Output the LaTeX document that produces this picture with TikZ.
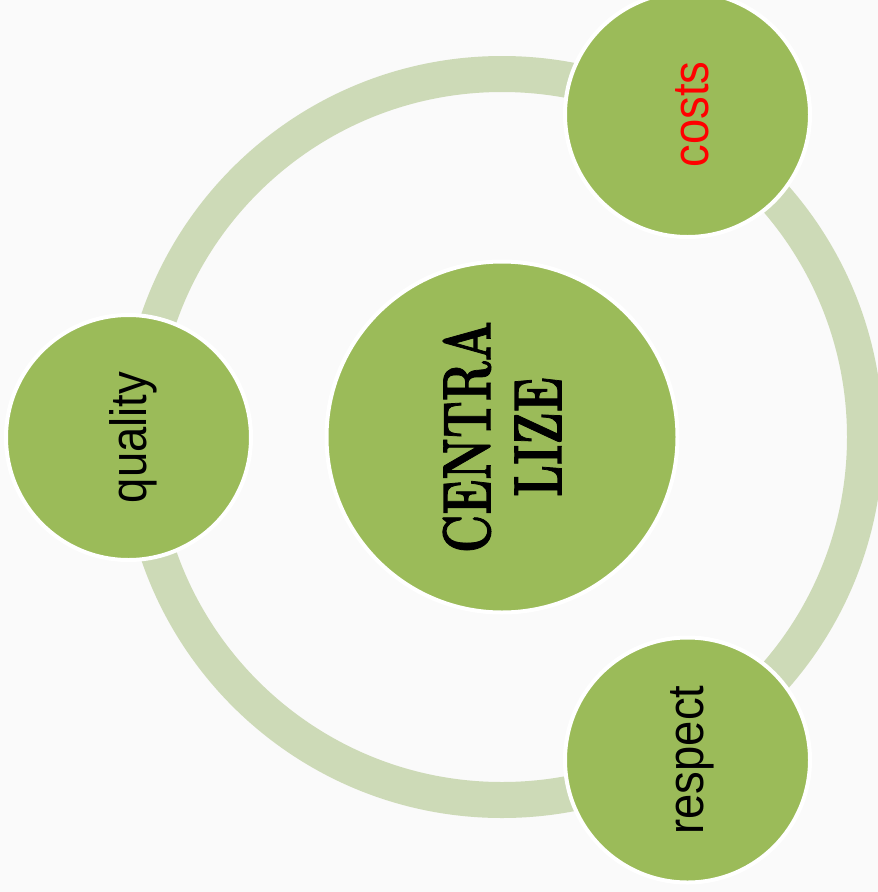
\documentclass[tikz,border=0pt]{standalone}
\usepackage{fontspec}
\newfontfamily\labelfont{Liberation Sans}
\newfontfamily\hubfont{lmroman10-bold}[Extension=.otf,FakeBold=1.6]
\usetikzlibrary{positioning}
\definecolor{leafgreen}{HTML}{9BBB59}
\definecolor{ringgreen}{HTML}{CDDAB7}
\definecolor{paper}{HTML}{FAFAFA}
\tikzset{
  bubble/.style={circle,fill=leafgreen,draw=white,line width=4pt,inner sep=0pt},
  hubbubble/.style={bubble,minimum size=351pt,rotate=90,align=center,
    font=\hubfont\fontsize{68}{71}\selectfont},
  petal/.style={bubble,minimum size=245pt,rotate=90,
    font=\labelfont\fontsize{51}{60}\selectfont},
  ring/.style={draw=ringgreen,line width=36pt}
}
\newcommand{\squeeze}[2]{\scalebox{#1}[1]{#2}}
\newcommand{\petaltext}[1]{\raisebox{-5pt}[\height][\depth]{\squeeze{0.89}{#1}}}

\begin{document}
\begin{tikzpicture}[x=1pt,y=-1pt]
\fill[paper] (0,0) rectangle (878,892);
\useasboundingbox (0,0) rectangle (878,892);
\clip (0,0) rectangle (878,892);
\coordinate (hub) at (502,437);
\draw[ring] (hub) circle [radius=363];
\node[hubbubble] (centre) at (hub) {\squeeze{0.68}{CENTRA}\\\squeeze{0.68}{LIZE}};
\node[petal] (quality) at (128.5,437.5) {\petaltext{quality}};
\node[petal,text=red] (costs) at (687.5,114.5) {\petaltext{costs}};
\node[petal] (respect) at (687.5,760) {\petaltext{respect}};
\end{tikzpicture}
\end{document}
